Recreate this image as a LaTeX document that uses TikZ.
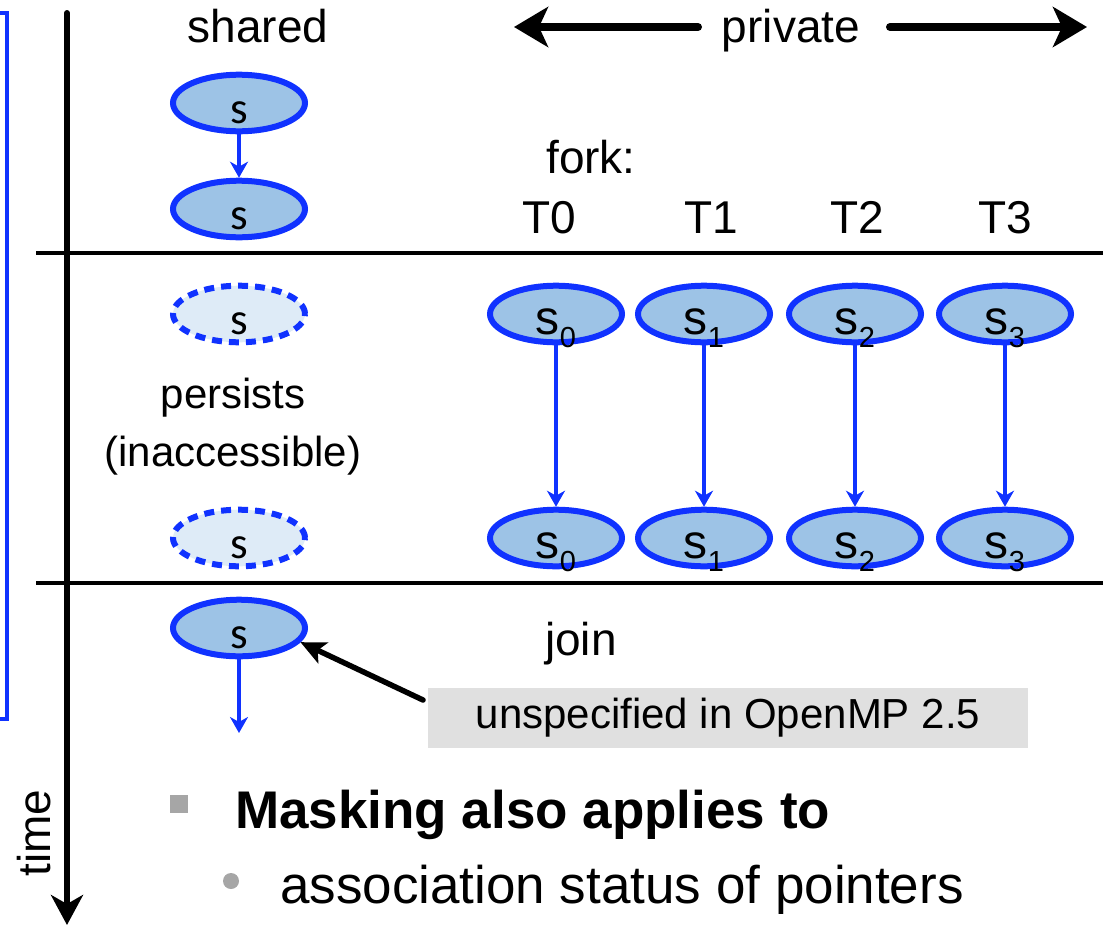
\documentclass[tikz,border=0pt]{standalone}
\usepackage{fontspec}
\setmainfont{Liberation Sans}
\newfontfamily\calfont{Carlito}
\usetikzlibrary{arrows.meta,shapes.geometric}
\definecolor{eblue}{RGB}{16,50,255}
\definecolor{efill}{RGB}{157,195,230}
\definecolor{dfill}{RGB}{222,235,247}
\definecolor{boxgray}{RGB}{224,224,224}
\definecolor{bulgray}{RGB}{166,166,166}
\tikzset{
 var/.style={ellipse, draw=eblue, line width=6pt, fill=efill, minimum width=132pt, minimum height=55pt, inner sep=0pt, text height=40pt, text depth=0pt, font=\fontsize{48}{48}\selectfont},
 shvar/.style={var, font=\calfont\fontsize{45}{45}\selectfont},
 ghost/.style={shvar, fill=dfill, dash pattern=on 10pt off 7pt},
 flow/.style={draw=eblue, line width=4pt, -{Stealth[length=16pt,width=18pt,inset=5pt]}},
 lbl/.style={anchor=base, font=\fontsize{46}{46}\selectfont, inner sep=0pt},
 small/.style={anchor=base, font=\fontsize{42}{42}\selectfont, inner sep=0pt},
 big/.style={anchor=base west, font=\fontsize{53}{53}\selectfont, inner sep=0pt},
 rule/.style={line width=4pt},
 bigarrow/.style={line width=8pt, line cap=round, -{Stealth[length=34pt,width=40pt,inset=9pt]}},
}
\newcommand{\sv}[1]{s\raisebox{-13pt}{\fontsize{29}{29}\selectfont #1}}
\begin{document}
\begin{tikzpicture}[x=1pt,y=-1pt]
\useasboundingbox (0,0) rectangle (1103,926);
% left bracket
\draw[eblue, line width=4pt] (0,13) -- (7,13) -- (7,719) -- (0,719);
% time axis
\coordinate (t0) at (67,13);
\coordinate (t1) at (67,925);
\draw[line width=6pt, line cap=round, -{Stealth[length=30pt,width=32pt,inset=9pt]}] (t0) -- (t1);
\node[rotate=90, anchor=base, font=\fontsize{46}{46}\selectfont, inner sep=0pt] (time) at (50,833) {time};
% horizontal rules
\coordinate (h1a) at (36,253); \coordinate (h1b) at (1103,253);
\coordinate (h2a) at (36,583); \coordinate (h2b) at (1103,583);
\draw[rule] (h1a) -- (h1b);
\draw[rule] (h2a) -- (h2b);
% headings
\node[lbl] (shared) at (258,42) {shared};
\node[lbl] (private) at (791,42) {private};
\coordinate (pl) at (698,27); \coordinate (plt) at (514,27);
\coordinate (pr) at (890,27); \coordinate (prt) at (1087,27);
\draw[bigarrow] (pl) -- (plt);
\draw[bigarrow] (pr) -- (prt);
\node[lbl] (fork) at (591,173) {fork:};
\node[lbl] (T0) at (549,233) {T0};
\node[lbl] (T1) at (711,233) {T1};
\node[lbl] (T2) at (857,233) {T2};
\node[lbl] (T3) at (1005,233) {T3};
% shared column
\node[shvar] (sa) at (239,103) {s};
\node[shvar] (sb) at (239,209) {s};
\draw[flow] (sa) -- (sb);
\node[ghost] (sc) at (239,314) {s};
\node[ghost] (sd) at (239,538) {s};
\node[small] (pers) at (233,408) {persists};
\node[small] (inacc) at (233,466) {(inaccessible)};
\node[shvar] (se) at (239,628) {s};
\coordinate (send) at (239,733);
\draw[flow] (se) -- (send);
% private columns
\node[var] (p0a) at (556,314) {\sv{0}};
\node[var] (p1a) at (704,314) {\sv{1}};
\node[var] (p2a) at (855,314) {\sv{2}};
\node[var] (p3a) at (1005,314) {\sv{3}};
\node[var] (p0b) at (556,538) {\sv{0}};
\node[var] (p1b) at (704,538) {\sv{1}};
\node[var] (p2b) at (855,538) {\sv{2}};
\node[var] (p3b) at (1005,538) {\sv{3}};
\draw[flow] (p0a) -- (p0b);
\draw[flow] (p1a) -- (p1b);
\draw[flow] (p2a) -- (p2b);
\draw[flow] (p3a) -- (p3b);
% join
\node[lbl] (join) at (581,655) {join};
\node[fill=boxgray, minimum width=600pt, minimum height=60pt, inner sep=0pt, font=\fontsize{42}{42}\selectfont] (note) at (728,718) {unspecified in OpenMP 2.5};
\coordinate (nc) at (423,700);
\draw[line width=5.5pt, line cap=round, -{Stealth[length=25pt,width=23pt,inset=6pt]}] (nc) -- (se.-13);
% bullets
\node[fill=bulgray, minimum size=18pt, inner sep=0pt] (b1) at (179,804) {};
\node[big, font=\bfseries\fontsize{53}{53}\selectfont] (mask) at (235,828) {Masking also applies to};
\node[circle, fill=bulgray, minimum size=16pt, inner sep=0pt] (b2) at (231,881) {};
\node[big] (assoc) at (280,903) {association status of pointers};
\end{tikzpicture}
\end{document}
